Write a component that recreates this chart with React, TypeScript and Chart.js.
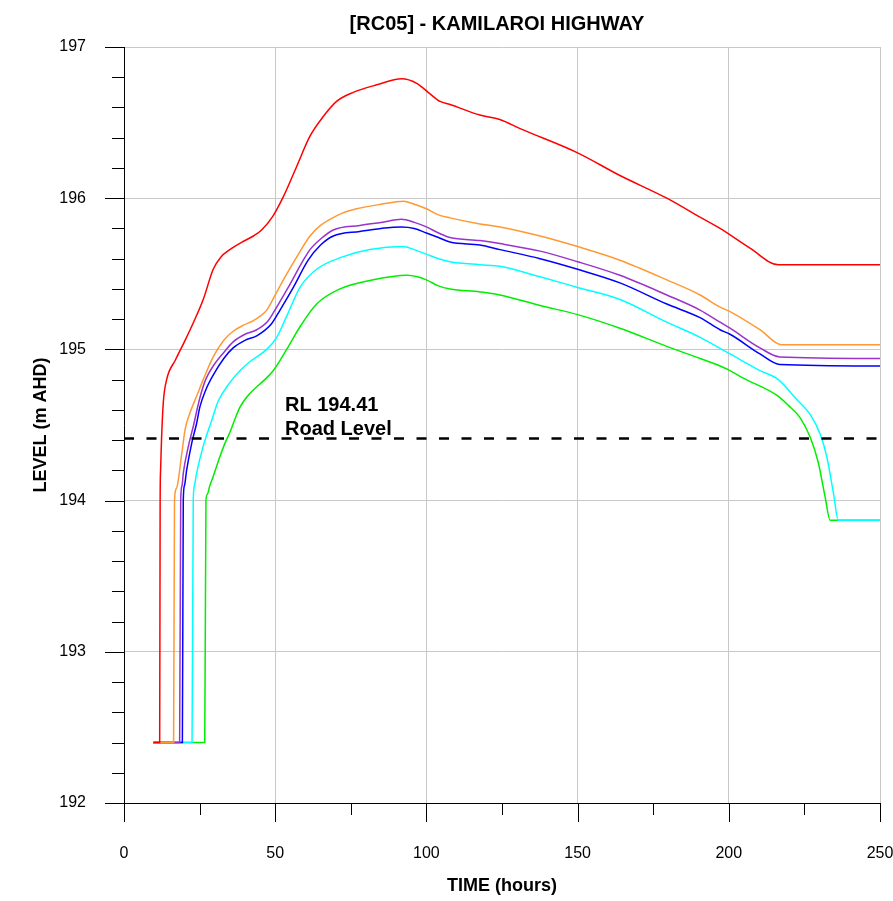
import React, { useEffect, useRef } from "react";
import { Chart, registerables } from "chart.js";

Chart.register(...registerables);

const TITLE = "[RC05] - KAMILAROI HIGHWAY";
const X_TITLE = "TIME (hours)";
const Y_TITLE = "LEVEL (m AHD)";
const ROAD_LEVEL = 194.41;
const ROAD_LABEL = ["RL 194.41", "Road Level"];

const RED_T = [9.7, 11.8, 11.95, 12.1, 12.4, 13.0, 14.1, 17, 20.2, 23, 26.2, 29.5, 32, 35, 39, 42.8, 45.5, 49.2, 52.7, 57.1, 61.5, 65.9, 70.3, 75.8, 83.6, 91.8, 96.8, 101.2, 104.5, 107.8, 117.7, 124.3, 131, 150, 164, 179.5, 190, 197.1, 207, 216.4, 250];
const RED_V = [192.4, 192.4, 194.0, 194.2, 194.4, 194.65, 194.8, 194.93, 195.06, 195.18, 195.33, 195.53, 195.61, 195.66, 195.71, 195.75, 195.79, 195.88, 196.01, 196.21, 196.41, 196.54, 196.64, 196.7, 196.75, 196.79, 196.76, 196.69, 196.64, 196.62, 196.55, 196.52, 196.46, 196.3, 196.15, 196.0, 195.88, 195.8, 195.67, 195.56, 195.56];

const ORANGE_T = [9.7, 16.4, 16.7, 17.3, 19.1, 20.2, 21.8, 24.0, 26.2, 29.5, 33, 36.1, 39.5, 42.8, 45, 47.2, 50, 52.7, 56.5, 61.5, 65, 68.1, 72, 76.9, 85, 92.4, 96, 100, 104, 107.8, 117.7, 124.3, 137.6, 150, 164, 179.5, 190.5, 197.1, 200.4, 210.3, 217.5, 250];
const ORANGE_V = [192.4, 192.4, 194.0, 194.08, 194.31, 194.47, 194.58, 194.69, 194.8, 194.95, 195.06, 195.12, 195.16, 195.19, 195.22, 195.26, 195.36, 195.46, 195.59, 195.75, 195.82, 195.86, 195.9, 195.93, 195.96, 195.98, 195.96, 195.93, 195.89, 195.87, 195.83, 195.81, 195.75, 195.68, 195.59, 195.46, 195.36, 195.28, 195.25, 195.13, 195.03, 195.03];

const PURPLE_T = [9.7, 18.4, 18.75, 19.2, 19.6, 21.3, 22.9, 25.1, 27, 29.5, 33, 36.1, 40, 43.9, 47.7, 50.5, 54.3, 59.3, 61.5, 65, 69.2, 78, 85, 91.8, 96, 100, 104, 107.8, 117.7, 124.3, 137.6, 150, 164, 179.5, 190.5, 197.1, 200.4, 210.3, 216.9, 250];
const PURPLE_V = [192.4, 192.4, 194.0, 194.1, 194.18, 194.36, 194.49, 194.68, 194.8, 194.89, 194.98, 195.05, 195.1, 195.13, 195.19, 195.28, 195.41, 195.59, 195.66, 195.73, 195.79, 195.82, 195.84, 195.86, 195.84, 195.81, 195.77, 195.74, 195.72, 195.7, 195.65, 195.58, 195.49, 195.36, 195.26, 195.18, 195.14, 195.01, 194.95, 194.94];

const BLUE_T = [9.7, 19.3, 19.6, 20.0, 20.7, 22.4, 24, 25.1, 27, 29.5, 33, 36.1, 40, 43.9, 48.8, 51.6, 56, 60.9, 65, 69.2, 78, 85, 91.8, 96, 100, 104, 107.8, 117.7, 124.3, 137.6, 150, 164, 179.5, 190.5, 197.1, 200.4, 210.3, 216.9, 250];
const BLUE_V = [192.4, 192.4, 194.0, 194.1, 194.2, 194.38, 194.51, 194.62, 194.73, 194.83, 194.94, 195.01, 195.06, 195.09, 195.17, 195.26, 195.41, 195.59, 195.69, 195.75, 195.78, 195.8, 195.81, 195.8, 195.77, 195.74, 195.71, 195.69, 195.66, 195.6, 195.53, 195.44, 195.3, 195.21, 195.13, 195.1, 194.97, 194.9, 194.89];

const CYAN_T = [9.7, 22.5, 22.9, 23.3, 24.0, 26.2, 29.0, 31.2, 35, 38.4, 41.7, 47.2, 50.5, 53.8, 58.2, 63.7, 72, 81.3, 92.4, 96, 100, 104, 107.8, 117.7, 124.3, 137.6, 150, 164, 179.5, 190.5, 200.4, 210.3, 216.4, 222.4, 226.9, 230.2, 232.4, 234.6, 236.2, 250];
const CYAN_V = [192.4, 192.4, 194.0, 194.1, 194.18, 194.36, 194.53, 194.66, 194.78, 194.86, 194.92, 195.0, 195.08, 195.22, 195.41, 195.53, 195.61, 195.66, 195.68, 195.66, 195.63, 195.6, 195.58, 195.56, 195.55, 195.48, 195.41, 195.33, 195.18, 195.08, 194.97, 194.86, 194.8, 194.67, 194.57, 194.44, 194.29, 194.05, 193.87, 193.87];

const GREEN_T = [9.7, 26.7, 27.1, 27.5, 28.4, 29.5, 31.7, 33.4, 35, 36.7, 38.4, 41.7, 46, 49.4, 53.8, 58.2, 63.7, 71.4, 82.4, 93.5, 97, 100, 104, 107.8, 117.7, 124.3, 137.6, 150, 164, 179.5, 190.5, 197.1, 200.4, 204.8, 216.4, 219.7, 223.5, 226.9, 229.6, 231.8, 233.5, 250];
const GREEN_V = [192.4, 192.4, 194.0, 194.04, 194.1, 194.16, 194.29, 194.38, 194.45, 194.54, 194.62, 194.71, 194.79, 194.86, 195.0, 195.15, 195.3, 195.4, 195.46, 195.49, 195.48, 195.46, 195.42, 195.4, 195.38, 195.36, 195.29, 195.23, 195.14, 195.02, 194.94, 194.89, 194.86, 194.81, 194.69, 194.63, 194.55, 194.42, 194.25, 194.03, 193.87, 193.87];

const X_MIN = 0;
const X_MAX = 250;
const X_MAJOR = 50;
const X_MINOR = 25;
const Y_MIN = 192;
const Y_MAX = 197;
const Y_MAJOR = 1;
const Y_MINOR = 0.2;

const FONT = "'Liberation Sans', Arial, sans-serif";

const pts = (t: number[], v: number[]) => t.map((x, i) => ({ x, y: v[i] }));

const series = [
  { t: RED_T, v: RED_V, color: "#ff0000" },
  { t: ORANGE_T, v: ORANGE_V, color: "#ff9933" },
  { t: PURPLE_T, v: PURPLE_V, color: "#9933cc" },
  { t: BLUE_T, v: BLUE_V, color: "#0000ff" },
  { t: CYAN_T, v: CYAN_V, color: "#00ffff" },
  { t: GREEN_T, v: GREEN_V, color: "#00ee00" },
];

const decorPlugin = {
  id: "decor",
  afterDraw(chart: any) {
    const { ctx, scales } = chart;
    const xs = scales.x;
    const ys = scales.y;
    ctx.save();
    ctx.strokeStyle = "#000";
    ctx.lineWidth = 1;
    const ny = Math.round((Y_MAX - Y_MIN) / Y_MINOR);
    for (let i = 0; i <= ny; i++) {
      const v = Y_MIN + i * Y_MINOR;
      const major = Math.abs(v / Y_MAJOR - Math.round(v / Y_MAJOR)) < 1e-6;
      const py = Math.round(ys.getPixelForValue(v)) + 0.5;
      const len = major ? 19 : 12;
      ctx.beginPath();
      ctx.moveTo(xs.left - len, py);
      ctx.lineTo(xs.left, py);
      ctx.stroke();
    }
    const nx = Math.round((X_MAX - X_MIN) / X_MINOR);
    for (let i = 0; i <= nx; i++) {
      const v = X_MIN + i * X_MINOR;
      const major = v % X_MAJOR === 0;
      const px = Math.round(xs.getPixelForValue(v)) + 0.5;
      const len = major ? 19 : 12;
      ctx.beginPath();
      ctx.moveTo(px, ys.bottom);
      ctx.lineTo(px, ys.bottom + len);
      ctx.stroke();
    }
    ctx.fillStyle = "#000";
    ctx.font = `bold 20px ${FONT}`;
    ctx.textAlign = "center";
    ctx.textBaseline = "alphabetic";
    ctx.fillText(TITLE, 497, 29.5);
    ctx.font = `bold 20px ${FONT}`;
    ctx.textAlign = "left";
    ctx.fillText(ROAD_LABEL[0], 285, 410.5);
    ctx.fillText(ROAD_LABEL[1], 285, 434.5);
    ctx.restore();
  },
};

export default function App() {
  const ref = useRef<HTMLCanvasElement | null>(null);
  useEffect(() => {
    document.body.style.margin = "0";
    const canvas = ref.current;
    if (!canvas) return;
    const datasets: any[] = [
      {
        data: [
          { x: X_MIN, y: ROAD_LEVEL },
          { x: X_MAX, y: ROAD_LEVEL },
        ],
        borderColor: "#000",
        borderWidth: 2.5,
        borderDash: [10, 12.5],
        pointRadius: 0,
        tension: 0,
        fill: false,
      },
      ...series.map((s) => ({
        data: pts(s.t, s.v),
        borderColor: s.color,
        borderWidth: 1.5,
        pointRadius: 0,
        cubicInterpolationMode: "monotone",
        fill: false,
      })),
    ];
    const chart = new Chart(canvas, {
      type: "line",
      data: { datasets },
      options: {
        animation: false,
        responsive: false,
        devicePixelRatio: 1,
        layout: { padding: { top: 47, right: 13, left: 0, bottom: 0 } },
        plugins: {
          legend: { display: false },
          tooltip: { enabled: false },
          title: { display: false },
        },
        scales: {
          x: {
            type: "linear",
            min: X_MIN,
            max: X_MAX,
            ticks: {
              stepSize: X_MAJOR,
              padding: 41,
              color: "#000",
              font: { family: FONT, size: 16 },
              maxRotation: 0,
              autoSkip: false,
            },
            grid: { color: "#c8c8c8", lineWidth: 1, drawTicks: false },
            border: { color: "#000", width: 1 },
            title: {
              display: true,
              text: X_TITLE,
              color: "#000",
              font: { family: FONT, size: 18, weight: "bold" },
              padding: { top: 0, bottom: 4 },
            },
            afterFit: (s: any) => {
              s.height = 98;
              s.paddingLeft = 0;
              s.paddingRight = 0;
            },
          },
          y: {
            type: "linear",
            min: Y_MIN,
            max: Y_MAX,
            ticks: {
              stepSize: Y_MAJOR,
              padding: 38,
              color: "#000",
              font: { family: FONT, size: 16 },
            },
            grid: { color: "#c8c8c8", lineWidth: 1, drawTicks: false },
            border: { color: "#000", width: 1 },
            title: {
              display: true,
              text: Y_TITLE,
              color: "#000",
              font: { family: FONT, size: 18, weight: "bold" },
              padding: { top: 30, bottom: 0 },
            },
            afterFit: (s: any) => {
              s.width = 124;
              s.paddingTop = 0;
              s.paddingBottom = 0;
            },
          },
        },
      } as any,
      plugins: [decorPlugin],
    });
    return () => chart.destroy();
  }, []);
  return (
    <div style={{ width: 893, height: 901 }}>
      <canvas ref={ref} width={893} height={901} style={{ display: "block" }} />
    </div>
  );
}
